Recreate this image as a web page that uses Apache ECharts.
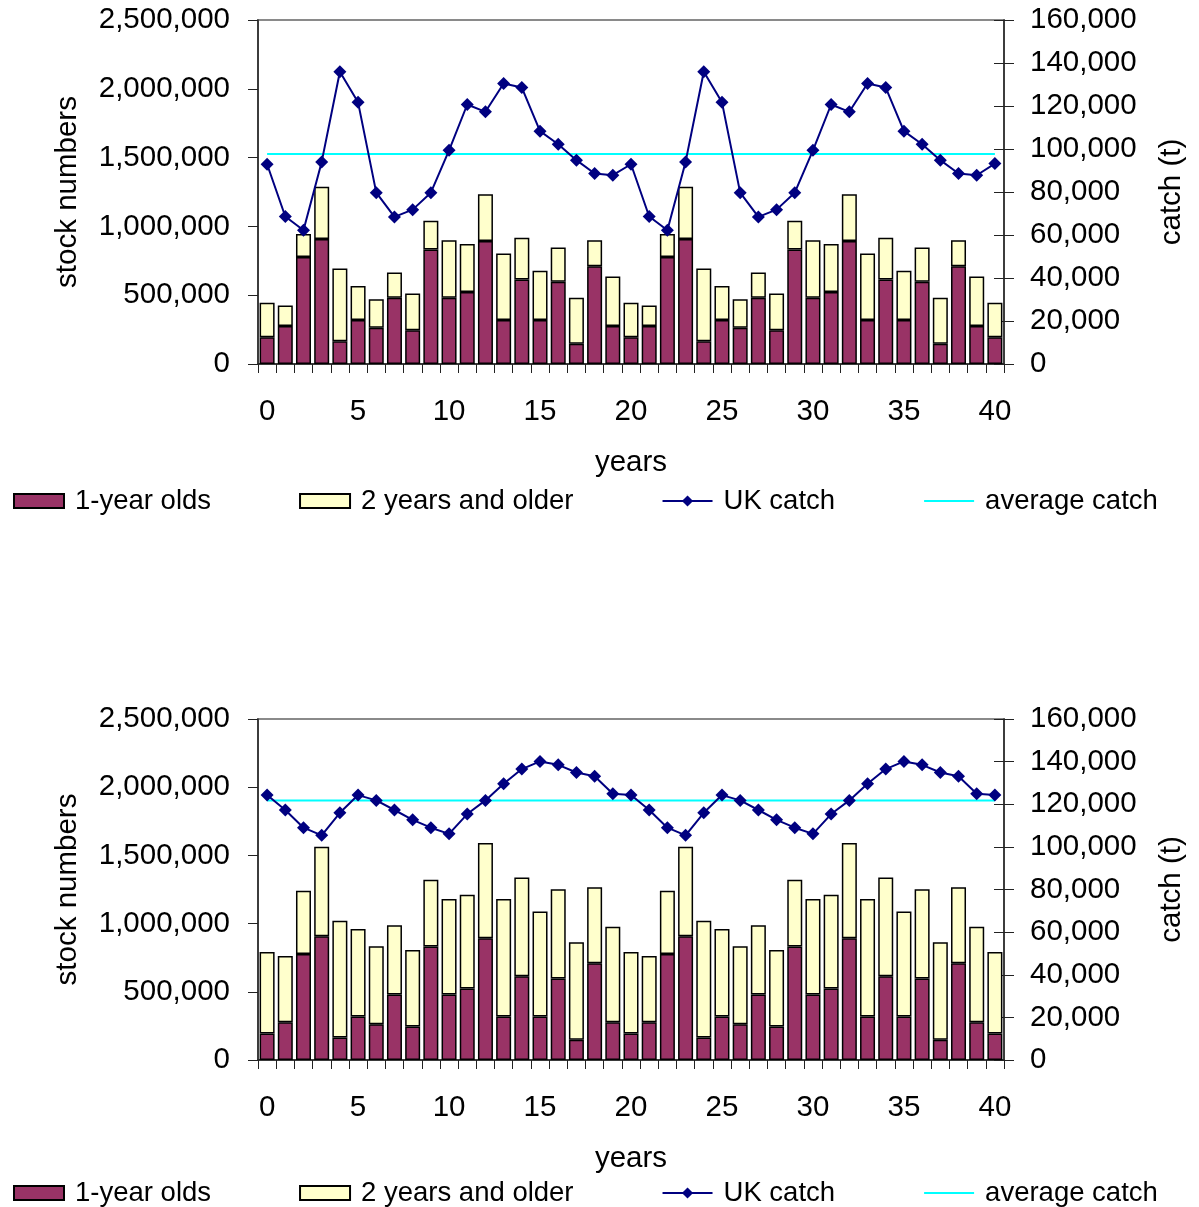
<!DOCTYPE html>
<html>
<head>
<meta charset="utf-8">
<script src="https://cdn.jsdelivr.net/npm/echarts@6/dist/echarts.min.js"></script>
<style>
  html, body { margin: 0; padding: 0; background: #ffffff; }
  #chart { width: 1199px; height: 1207px; }
</style>
</head>
<body>
<div id="chart"></div>
<script>
// Simulation years (category axis)
const years = ['0','1','2','3','4','5','6','7','8','9','10','11','12','13','14','15','16','17','18','19','20',
               '21','22','23','24','25','26','27','28','29','30','31','32','33','34','35','36','37','38','39','40'];

// Stock numbers: 1-year olds (same recruitment in both scenarios)
const oneYearOlds = [195000,276000,777000,908000,165000,319000,263000,481000,246000,832000,
                     481000,524000,893000,319000,614000,319000,597000,148000,710000,276000,
                     195000,276000,777000,908000,165000,319000,263000,481000,246000,832000,
                     481000,524000,893000,319000,614000,319000,597000,148000,710000,276000,
                     195000];

// Scenario A: 2 years and older
const olderA = [250000,150000,167000,381000,529000,248000,207000,184000,266000,209000,
                419000,349000,340000,484000,303000,358000,250000,334000,190000,360000,
                250000,150000,167000,381000,529000,248000,207000,184000,266000,209000,
                419000,349000,340000,484000,303000,358000,250000,334000,190000,360000,
                250000];

// Scenario A: UK catch (t)
const catchA = [92900,68600,62200,94000,135900,121700,79700,68400,71800,79700,
                99400,120700,117300,130500,128600,108300,102200,94800,88600,87800,
                92900,68600,62200,94000,135900,121700,79700,68400,71800,79700,
                99400,120700,117300,130500,128600,108300,102200,94800,88600,87800,
                93200];
const averageCatchA = 97700;

// Scenario B: 2 years and older
const olderB = [597000,487000,463000,655000,855000,642000,571000,507000,561000,489000,
                700000,687000,697000,862000,724000,769000,655000,715000,557000,700000,
                597000,487000,463000,655000,855000,642000,571000,507000,561000,489000,
                700000,687000,697000,862000,724000,769000,655000,715000,557000,700000,
                597000];

// Scenario B: UK catch (t)
const catchB = [124300,117300,109000,105400,116000,124300,121800,117300,112700,109000,
                106100,115400,121800,129600,136500,140100,138500,134900,133100,124900,
                124300,117300,109000,105400,116000,124300,121800,117300,112700,109000,
                106100,115400,121800,129600,136500,140100,138500,134900,133100,124900,
                124300];
const averageCatchB = 121800;

// Axis ranges
const stockMax = 2500000, stockStep = 500000;
const catchMax = 160000, catchStep = 20000;

const FONT = 'Liberation Sans, Arial, sans-serif';
const FS_AXIS = 29.5;
const FS_LEGEND = 27.5;
const AXIS_COLOR = '#222222';
const fmt = v => Number(v).toLocaleString('en-US');

const grids = [
  { left: 258, width: 746, top: 20, height: 344 },
  { left: 258, width: 746, top: 719, height: 341 }
];

function xAxisFor(g) {
  return {
    type: 'category', gridIndex: g, data: years,
    boundaryGap: true,
    name: 'years', nameLocation: 'middle', nameGap: 84,
    nameTextStyle: { fontFamily: FONT, fontSize: FS_AXIS, color: '#000' },
    axisLine: { lineStyle: { color: AXIS_COLOR, width: 1.5 } },
    axisTick: { show: true, interval: 0, length: 9, lineStyle: { color: AXIS_COLOR } },
    axisLabel: { interval: 4, margin: 33, fontFamily: FONT, fontSize: FS_AXIS, color: '#000' },
    splitLine: { show: false }
  };
}

function yAxesFor(g) {
  return [
    {
      type: 'value', gridIndex: g, position: 'left',
      min: 0, max: stockMax, interval: stockStep,
      name: 'stock numbers', nameLocation: 'middle', nameRotate: 90, nameGap: 175,
      nameTextStyle: { fontFamily: FONT, fontSize: FS_AXIS, color: '#000' },
      axisLine: { show: true, lineStyle: { color: AXIS_COLOR, width: 1.5 } },
      axisTick: { show: true, length: 10, lineStyle: { color: AXIS_COLOR } },
      axisLabel: { margin: 28, fontFamily: FONT, fontSize: FS_AXIS, color: '#000', formatter: fmt },
      splitLine: { show: false }
    },
    {
      type: 'value', gridIndex: g, position: 'right',
      min: 0, max: catchMax, interval: catchStep,
      name: 'catch (t)', nameLocation: 'middle', nameRotate: 90, nameGap: 153,
      nameTextStyle: { fontFamily: FONT, fontSize: FS_AXIS, color: '#000' },
      axisLine: { show: true, lineStyle: { color: AXIS_COLOR, width: 1.5 } },
      axisTick: { show: true, length: 10, lineStyle: { color: AXIS_COLOR } },
      axisLabel: { margin: 26, fontFamily: FONT, fontSize: FS_AXIS, color: '#000', formatter: fmt },
      splitLine: { show: false }
    },
    {
      // inner half of the crossing ticks on the catch axis
      type: 'value', gridIndex: g, position: 'right',
      min: 0, max: catchMax, interval: catchStep,
      axisLine: { show: false },
      axisTick: { show: true, inside: true, length: 10, lineStyle: { color: AXIS_COLOR } },
      axisLabel: { show: false },
      splitLine: { show: false }
    }
  ];
}

function seriesFor(g, older, ukCatch, avg) {
  const avgLine = years.map(() => avg);
  const barBase = { type: 'bar', xAxisIndex: g, yAxisIndex: g * 3, stack: 'stock' + g, barWidth: 15 };
  return [
    Object.assign({}, barBase, {
      name: '1-year olds', data: oneYearOlds,
      itemStyle: { color: '#993366', borderColor: '#000', borderWidth: 1.5 }
    }),
    Object.assign({}, barBase, {
      name: '2 years and older', data: older,
      itemStyle: { color: '#FFFFCC', borderColor: '#000', borderWidth: 1.5 }
    }),
    {
      name: 'average catch', type: 'line', xAxisIndex: g, yAxisIndex: g * 3 + 1,
      data: avgLine, symbol: 'none', z: 3,
      lineStyle: { color: '#00FFFF', width: 2 }, itemStyle: { color: '#00FFFF' }
    },
    {
      name: 'UK catch', type: 'line', xAxisIndex: g, yAxisIndex: g * 3 + 1,
      data: ukCatch, symbol: 'diamond', symbolSize: 13, showAllSymbol: true, z: 4,
      lineStyle: { color: '#000080', width: 2 }, itemStyle: { color: '#000080' }
    }
  ];
}

function legendFor(top) {
  return {
    left: 13, top: top, orient: 'horizontal', padding: 0,
    itemGap: 88, itemWidth: 50, itemHeight: 14,
    data: [
      { name: '1-year olds', icon: 'rect' },
      { name: '2 years and older', icon: 'rect' },
      { name: 'UK catch' },
      { name: 'average catch', itemStyle: { color: 'rgba(0,0,0,0)', borderWidth: 0 } }
    ],
    textStyle: { fontFamily: FONT, fontSize: FS_LEGEND, color: '#000', padding: [0, 0, 0, 6] }
  };
}

const chart = echarts.init(document.getElementById('chart'), null, { renderer: 'canvas' });
chart.setOption({
  animation: false,
  backgroundColor: '#ffffff',
  grid: grids.map(gr => Object.assign({ show: true, borderColor: '#8a8a8a', borderWidth: 2, backgroundColor: 'transparent' }, gr)),
  xAxis: [xAxisFor(0), xAxisFor(1)],
  yAxis: yAxesFor(0).concat(yAxesFor(1)),
  legend: [legendFor(487), legendFor(1179)],
  series: seriesFor(0, olderA, catchA, averageCatchA).concat(seriesFor(1, olderB, catchB, averageCatchB))
});
</script>
</body>
</html>
